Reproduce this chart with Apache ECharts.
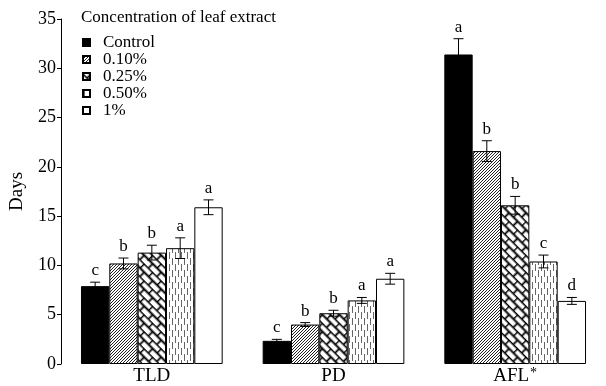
<!DOCTYPE html>
<html>
<head>
<meta charset="utf-8">
<script src="https://cdn.jsdelivr.net/npm/echarts@6/dist/echarts.min.js"></script>
<style>html,body{margin:0;padding:0;background:#fff}#c{width:606px;height:386px}</style>
</head>
<body>
<div id="c"></div>
<script>
const categories = ['TLD', 'PD', 'AFL*'];
const seriesNames = ['Control', '0.10%', '0.25%', '0.50%', '1%'];
const values = [
  [7.9, 2.35, 31.4],
  [10.2, 4.0, 21.6],
  [11.3, 5.15, 16.1],
  [11.75, 6.45, 10.4],
  [15.9, 8.65, 6.4]
];
const errors = [
  [0.4, 0.15, 1.6],
  [0.55, 0.2, 1.05],
  [0.75, 0.3, 0.9],
  [1.05, 0.3, 0.65],
  [0.75, 0.55, 0.35]
];
const letters = [
  ['c', 'c', 'a'],
  ['b', 'b', 'b'],
  ['b', 'b', 'b'],
  ['a', 'a', 'c'],
  ['a', 'a', 'd']
];
const yTicks = { min: 0, max: 35, interval: 5 };

const FONT = '"Liberation Serif", "DejaVu Serif", serif';

function makeCanvas(w, h, draw) {
  const c = document.createElement('canvas');
  c.width = w; c.height = h;
  const ctx = c.getContext('2d');
  ctx.fillStyle = '#fff';
  ctx.fillRect(0, 0, w, h);
  draw(ctx);
  return c;
}
const hatch = makeCanvas(3, 3, ctx => {
  ctx.fillStyle = '#222';
  ctx.fillRect(0, 2, 1, 1);
  ctx.fillRect(1, 1, 1, 1);
  ctx.fillRect(2, 0, 1, 1);
});
const brick = makeCanvas(12, 12, ctx => {
  ctx.strokeStyle = '#000'; ctx.lineWidth = 1.8;
  ctx.beginPath();
  ctx.moveTo(0, 0.5); ctx.lineTo(12, 0.5);
  ctx.moveTo(0, 6.5); ctx.lineTo(12, 6.5);
  ctx.moveTo(0.5, 0); ctx.lineTo(0.5, 6.5);
  ctx.moveTo(6.5, 6.5); ctx.lineTo(6.5, 12);
  ctx.stroke();
});
const dashes = makeCanvas(6, 12, ctx => {
  ctx.strokeStyle = '#666'; ctx.lineWidth = 1;
  ctx.beginPath();
  ctx.moveTo(1.5, 0); ctx.lineTo(1.5, 7);
  ctx.moveTo(4.5, 6); ctx.lineTo(4.5, 12);
  ctx.moveTo(4.5, 0); ctx.lineTo(4.5, 1);
  ctx.stroke();
});
const fills = [
  '#000',
  { image: hatch, repeat: 'repeat' },
  { image: brick, repeat: 'repeat', rotation: Math.PI / 4 },
  { image: dashes, repeat: 'repeat' },
  '#fff'
];
const GAP = 0.22;

const series = [];
seriesNames.forEach((name, i) => {
  series.push({
    name: name,
    type: 'bar',
    data: values[i],
    barGap: '0%',
    barCategoryGap: (GAP * 100) + '%',
    itemStyle: { color: fills[i], borderColor: '#000', borderWidth: 1 },
    emphasis: { disabled: true },
    silent: true
  });
});
seriesNames.forEach((name, i) => {
  series.push({
    type: 'custom',
    name: name + '_err',
    silent: true,
    z: 5,
    data: values[i].map((v, k) => [k, v, errors[i][k]]),
    renderItem: function (params, api) {
      const k = api.value(0), v = api.value(1), e = api.value(2);
      const band = api.size([1, 0])[0];
      const bw = band * (1 - GAP) / 5;
      const off = (i - 2) * bw;
      const p0 = api.coord([k, v - e]);
      const p1 = api.coord([k, v + e]);
      const x = p0[0] + off;
      const cap = 5;
      const lbl = letters[i][k];
      return {
        type: 'group',
        children: [
          { type: 'line', shape: { x1: x, y1: p0[1], x2: x, y2: p1[1] }, style: { stroke: '#000', lineWidth: 1 } },
          { type: 'line', shape: { x1: x - cap, y1: p1[1], x2: x + cap, y2: p1[1] }, style: { stroke: '#000', lineWidth: 1 } },
          { type: 'line', shape: { x1: x - cap, y1: p0[1], x2: x + cap, y2: p0[1] }, style: { stroke: '#000', lineWidth: 1 } },
          { type: 'text', x: x, y: p1[1] - 3, style: { text: lbl, textAlign: 'center', textVerticalAlign: 'bottom', font: '17px ' + FONT, fill: '#000' } }
        ]
      };
    }
  });
});

const chart = echarts.init(document.getElementById('c'), null, { renderer: 'canvas' });
chart.setOption({
  animation: false,
  backgroundColor: '#fff',
  title: {
    text: 'Concentration of leaf extract',
    left: 76, top: 4,
    textStyle: { fontFamily: FONT, fontSize: 17, fontWeight: 'normal', color: '#000' }
  },
  legend: {
    data: seriesNames,
    orient: 'vertical',
    left: 77, top: 29,
    itemWidth: 7, itemHeight: 7,
    itemGap: 0,
    icon: 'rect',
    selectedMode: false,
    textStyle: { fontFamily: FONT, fontSize: 17, color: '#000', padding: [0, 0, 0, 8] }
  },
  grid: { left: 61, top: 19, bottom: 19, width: 564, containLabel: false },
  xAxis: {
    type: 'category',
    data: categories,
    axisLine: { show: false },
    axisTick: { show: false },
    axisLabel: {
      fontFamily: FONT, fontSize: 19, color: '#000', margin: 3,
      formatter: v => v.endsWith('*') ? '{n|' + v.slice(0, -1) + '}{s|*}' : v,
      rich: {
        n: { fontFamily: FONT, fontSize: 19, color: '#000', lineHeight: 19, verticalAlign: 'bottom' },
        s: { fontFamily: FONT, fontSize: 14, color: '#000', lineHeight: 14, verticalAlign: 'bottom', padding: [0, 0, 6, 1] }
      }
    }
  },
  yAxis: {
    type: 'value',
    min: yTicks.min, max: yTicks.max, interval: yTicks.interval,
    name: 'Days',
    nameLocation: 'middle',
    nameGap: 34,
    nameTextStyle: { fontFamily: FONT, fontSize: 19, color: '#000' },
    axisLine: { show: true, lineStyle: { color: '#000', width: 1 } },
    axisTick: { show: true, length: 4, lineStyle: { color: '#000' } },
    splitLine: { show: false },
    axisLabel: { fontFamily: FONT, fontSize: 18, color: '#000', margin: 5 }
  },
  series: series
});
</script>
</body>
</html>
